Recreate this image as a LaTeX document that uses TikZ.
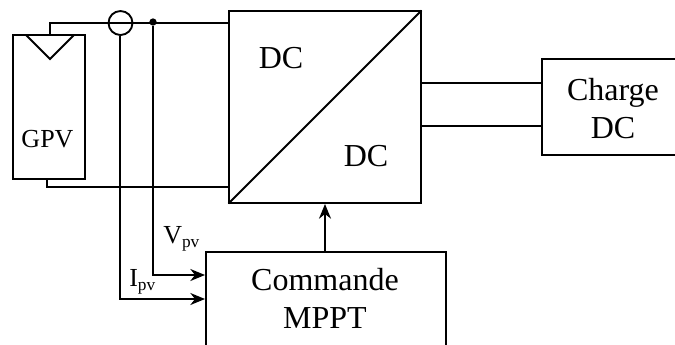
\documentclass[tikz,border=0pt]{standalone}
\usepackage{fontspec}
\setmainfont{Liberation Serif}
\usetikzlibrary{arrows.meta}
\tikzset{
  wire/.style={line width=1.5pt,line join=miter},
  thinwire/.style={line width=1.2pt},
  sig/.style={line width=1.3pt,-{Stealth[length=11pt,width=9pt,inset=3.5pt]}},
  lab/.style={inner sep=0pt,font=\fontsize{24}{28.5}\selectfont},
  labs/.style={inner sep=0pt,font=\fontsize{19.5}{22}\selectfont},
}
\begin{document}
\begin{tikzpicture}[x=0.75pt,y=-0.75pt]
\useasboundingbox (0,0) rectangle (675,344);
% GPV
\node[draw,wire,minimum width=54pt,minimum height=108pt,inner sep=0pt] (gpv) at (49,107) {};
\node[labs] (gpvt) at (47.5,139) {GPV};
\draw[wire] (26,35) coordinate (t1) -- (50,59) coordinate (t2) -- (74,35) coordinate (t3);
% converter
\node[draw,wire,minimum width=144pt,minimum height=144pt,inner sep=0pt] (conv) at (325,107) {};
\draw[wire,shorten <=0.5pt,shorten >=0.5pt] (conv.south west) -- (conv.north east);
\node[lab] (dc1) at (281,58) {DC};
\node[lab] (dc2) at (366,156) {DC};
% charge
\node[draw,wire,minimum width=120pt,minimum height=72pt,inner sep=0pt,anchor=west] (charge) at (541,107) {};
\node[lab,align=center] (charget) at (613,108.5) {Charge\\DC};
% command
\node[draw,wire,minimum width=180pt,minimum height=90pt,inner sep=0pt,anchor=north west] (cmd) at (205,251) {};
\node[lab,align=center] (cmdt) at (325,298.5) {Commande\\MPPT};
% sensors
\node[draw,line width=1.4pt,circle,minimum size=18pt,inner sep=0pt] (ct) at (120.5,23) {};
\node[fill=black,circle,minimum size=5.5pt,inner sep=0pt] (vn) at (153,22) {};
% coordinates
\coordinate (gt) at (50,35);
\coordinate (gtc) at (50,23);
\coordinate (ci) at (229,23);
\coordinate (gb) at (47,179);
\coordinate (gbc) at (47,187);
\coordinate (cb) at (229,187);
\coordinate (v1) at (153,275);
\coordinate (v2) at (205,275);
\coordinate (i1) at (120,299);
\coordinate (i2) at (205,299);
\coordinate (o1) at (421,83);
\coordinate (o2) at (541,83);
\coordinate (o3) at (421,126);
\coordinate (o4) at (541,126);
% wires
\draw[thinwire] (gt) -- (gtc) -- (ci);
\draw[thinwire] (gb) -- (gbc) -- (cb);
\draw[thinwire] (o1) -- (o2);
\draw[thinwire] (o3) -- (o4);
\draw[sig] (ct.south -| i1) -- (i1) -- (i2);
\draw[sig] (vn) -- (v1) -- (v2);
\draw[sig] (cmd.north west -| conv.south) -- (conv.south);
% labels
\node[labs,anchor=base west] (vl) at (163,243.5) {V\raisebox{-3pt}{\fontsize{13}{13}\selectfont pv}};
\node[labs,anchor=base west] (il) at (129,286) {I\raisebox{-3pt}{\fontsize{13}{13}\selectfont pv}};
\end{tikzpicture}
\end{document}
